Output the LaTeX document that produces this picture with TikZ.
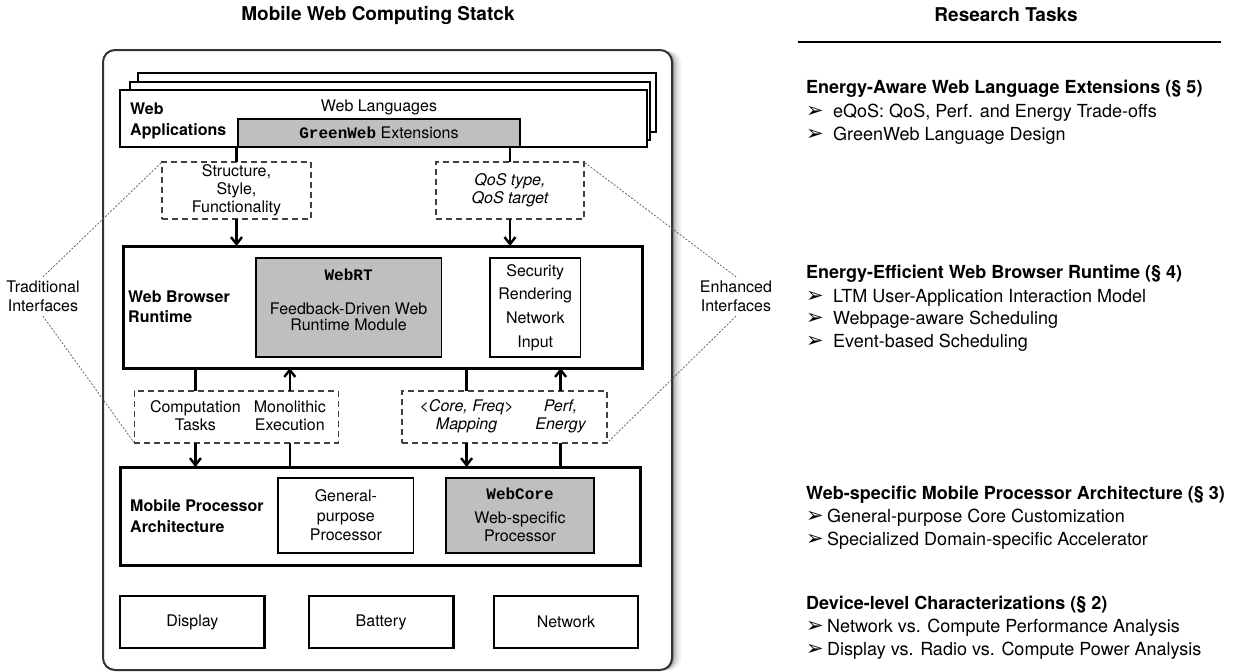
\documentclass[tikz,border=0pt]{standalone}
\usepackage{fontspec}
\setmainfont{TeX Gyre Heros}
\setmonofont{Liberation Mono}
\newfontfamily\dejavu{DejaVu Sans}
\usetikzlibrary{arrows.meta,calc}
\newcommand{\fs}[2]{\fontsize{#1}{#2}\selectfont}
\newcommand{\mytt}[1]{{\ttfamily\bfseries #1}}
\begin{document}
\begin{tikzpicture}[x=1pt,y=-1pt,
  bx/.style={draw, anchor=north west, inner sep=0pt, outer sep=0pt, fill=white, align=center, font=\fs{16}{18}},
  heavy/.style={bx, line width=2.7pt},
  inner/.style={bx, line width=1.4pt},
  grayfill/.style={fill=black!25},
  dashbox/.style={bx, draw=black!75, line width=1.1pt, dash pattern=on 6pt off 4pt},
  txt/.style={inner sep=0pt, align=center, font=\fs{16}{18}},
  conn/.style={line width=2.4pt},
  arr/.style={conn, -{Straight Barb[length=7pt,width=11pt]}},
  dotl/.style={draw=black!65, line width=0.7pt, dash pattern=on 2pt off 1.6pt},
  head/.style={anchor=base west, inner sep=0pt, font=\bfseries\fs{18}{22}},
  item/.style={anchor=base west, inner sep=0pt, font=\fs{18}{22}},
  bul/.style={anchor=base west, inner sep=0pt, font=\dejavu\fs{21}{22}},
]
\useasboundingbox (0,0) rectangle (1237,672);

% titles
\node[inner sep=0pt, font=\bfseries\fs{19}{22}] (title1) at (378,15) {Mobile Web Computing Statck};
\node[inner sep=0pt, font=\bfseries\fs{19}{22}] (title2) at (1006,15) {Research Tasks};
\coordinate (rl) at (798,42);
\coordinate (rr) at (1221,42);
\draw[line width=1.2pt] (rl) -- (rr);

% outer frame with shadow
\foreach \o/\c in {9/5,7/10,5/18,3/30,1.5/45}
  \fill[black!\c, rounded corners=12pt] (103+\o,51) rectangle (672+\o,670);
\node[draw=black!80, line width=2pt, fill=white, rounded corners=12pt, anchor=north west,
      inner sep=0pt, outer sep=0pt, minimum width=569pt, minimum height=620pt] (outer) at (103,50) {};

% web applications stack
\node[heavy, minimum width=518pt, minimum height=59pt] (wa3) at (138,73) {};
\node[heavy, minimum width=520pt, minimum height=58pt] (wa2) at (130,82) {};
\node[heavy, minimum width=527pt, minimum height=57pt] (wa) at (120,90) {};
\node[txt, anchor=west, align=left, font=\bfseries\fs{16}{21}] (watxt) at (130,121) {Web\\Applications};
\node[txt] (wl) at (379,107) {Web Languages};
\node[bx, grayfill, line width=1.3pt, minimum width=282pt, minimum height=28pt] (gw) at (238,119) {\mytt{GreenWeb} Extensions};

% upper interfaces
\node[dashbox, minimum width=149pt, minimum height=57pt] (d1) at (162,162) {Structure,\\Style,\\Functionality};
\node[dashbox, minimum width=148pt, minimum height=57pt, font=\itshape\fs{16}{18}] (d2) at (436,162) {QoS type,\\QoS target};

% browser runtime
\node[heavy, line width=3pt, minimum width=519pt, minimum height=122pt] (wbr) at (123,246) {};
\node[txt, anchor=west, align=left, font=\bfseries\fs{16}{20}] (wbrtxt) at (128,307) {Web Browser\\Runtime};
\node[inner, grayfill, minimum width=185.5pt, minimum height=99pt] (webrt) at (256,258) {};
\node[txt] (webrtname) at (348.6,275) {\mytt{WebRT}};
\node[txt, font=\fs{16}{16.5}] (webrtdesc) at (348.6,317) {Feedback-Driven Web\\Runtime Module};
\node[inner, minimum width=90.6pt, minimum height=99pt, font=\fs{16}{23.7}] (sec) at (490,258) {Security\\Rendering\\Network\\Input};

% lower interfaces
\node[dashbox, minimum width=204pt, minimum height=52pt] (dl) at (134.4,391) {};
\node[dashbox, minimum width=205pt, minimum height=52pt] (dr) at (402,391) {};
\coordinate (c1) at (195.4,0);
\coordinate (c2) at (289.8,0);
\coordinate (c3) at (466.6,0);
\coordinate (c4) at (560.6,0);
\node[txt] (tc1) at (195.4,416) {Computation\\Tasks};
\node[txt] (tc2) at (289.8,416) {Monolithic\\Execution};
\node[txt, font=\itshape\fs{16}{18}] (tc3) at (466.6,416) {<Core, Freq>\\Mapping};
\node[txt, font=\itshape\fs{16}{18}] (tc4) at (560.6,416) {Perf,\\Energy};

% processor
\node[heavy, line width=3pt, minimum width=520pt, minimum height=98pt] (proc) at (120,467) {};
\node[txt, anchor=west, align=left, font=\bfseries\fs{16}{21}] (proctxt) at (130,516) {Mobile Processor\\Architecture};
\node[inner, minimum width=135.7pt, minimum height=75pt, font=\fs{16}{19.5}] (gp) at (278,478) {General-\\purpose\\Processor};
\node[inner, grayfill, minimum width=148pt, minimum height=75pt] (wc) at (446,478) {};
\node[txt] (wcname) at (520,494) {\mytt{WebCore}};
\node[txt] (wcdesc) at (520,527) {Web-specific\\Processor};

% devices
\node[heavy, minimum width=144.6pt, minimum height=52pt] (disp) at (120,596) {Display};
\node[heavy, minimum width=144.3pt, minimum height=52pt] (batt) at (309,596) {Battery};
\node[heavy, minimum width=144pt, minimum height=52pt] (net) at (494,596) {Network};

% connectors top
\draw[conn] (d1.north |- gw.south) -- (d1.north);
\draw[arr] (d1.south) -- (d1.south |- wbr.north);
\draw[conn] (d2.north |- gw.south) -- (d2.north);
\draw[arr] (d2.south) -- (d2.south |- wbr.north);

% connectors bottom
\draw[conn] (c1 |- wbr.south) -- (c1 |- dl.north);
\draw[arr] (c1 |- dl.south) -- (c1 |- proc.north);
\draw[conn] (c2 |- proc.north) -- (c2 |- dl.south);
\draw[arr] (c2 |- dl.north) -- (c2 |- wbr.south);
\draw[conn] (c3 |- wbr.south) -- (c3 |- dr.north);
\draw[arr] (c3 |- dr.south) -- (c3 |- proc.north);
\draw[conn] (c4 |- proc.north) -- (c4 |- dr.south);
\draw[arr] (c4 |- dr.north) -- (c4 |- wbr.south);

% side labels
\node[txt, inner sep=4pt, font=\fs{16}{19}] (trad) at (43,296.5) {Traditional\\Interfaces};
\node[txt, inner sep=4pt, font=\fs{16}{19}] (enh) at (736,296.5) {Enhanced\\Interfaces};
\draw[dotl] (trad.north) -- (d1.north west);
\draw[dotl] (trad.south) -- (dl.south west);
\draw[dotl] (enh.north) -- (d2.north east);
\draw[dotl] (enh.south) -- (dr.south east);

% research tasks
\node[head] (h1) at (806,93) {Energy-Aware Web Language Extensions (§ 5)};
\node[bul] (b1a) at (806,117) {➢};
\node[item] (i1a) at (833,117) {eQoS: QoS, Perf. and Energy Trade-offs};
\node[bul] (b1b) at (806,140) {➢};
\node[item] (i1b) at (833,140) {GreenWeb Language Design};

\node[head] (h2) at (806,278) {Energy-Efficient Web Browser Runtime (§ 4)};
\node[bul] (b2a) at (806,302) {➢};
\node[item] (i2a) at (833,302) {LTM User-Application Interaction Model};
\node[bul] (b2b) at (806,324.5) {➢};
\node[item] (i2b) at (833,324.5) {Webpage-aware Scheduling};
\node[bul] (b2c) at (806,347) {➢};
\node[item] (i2c) at (833,347) {Event-based Scheduling};

\node[head] (h3) at (806,499) {Web-specific Mobile Processor Architecture (§ 3)};
\node[bul] (b3a) at (806,522) {➢};
\node[item] (i3a) at (827,522) {General-purpose Core Customization};
\node[bul] (b3b) at (806,545) {➢};
\node[item] (i3b) at (827,545) {Specialized Domain-specific Accelerator};

\node[head] (h4) at (806,609) {Device-level Characterizations (§ 2)};
\node[bul] (b4a) at (806,632) {➢};
\node[item] (i4a) at (827,632) {Network vs. Compute Performance Analysis};
\node[bul] (b4b) at (806,655) {➢};
\node[item] (i4b) at (827,655) {Display vs. Radio vs. Compute Power Analysis};
\end{tikzpicture}
\end{document}
